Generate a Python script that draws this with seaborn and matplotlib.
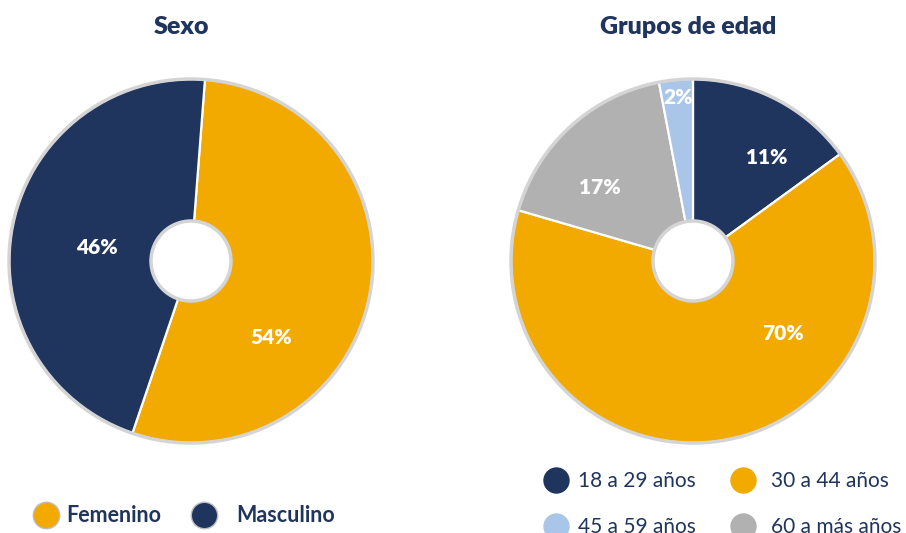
import matplotlib
matplotlib.use("Agg")
import matplotlib.pyplot as plt
from matplotlib.patches import Circle
from matplotlib.lines import Line2D
import seaborn as sns

sns.set_theme(style="white")
FONT = ['Lato', 'DejaVu Sans']
plt.rcParams['font.family'] = FONT

# ---- data ----
sexo_categorias = ["Femenino", "Masculino"]
sexo_valores = [54, 46]
sexo_etiquetas = ["54%", "46%"]

edad_categorias = ["18 a 29 años", "30 a 44 años", "45 a 59 años", "60 a más años"]
edad_valores = [15, 64.5, 3, 17.5]          # slice sizes as drawn
edad_etiquetas = ["11%", "70%", "2%", "17%"]  # labels as printed

NAVY = "#1F355E"
ORANGE = "#F2A900"
LBLUE = "#A9C6E8"
GRAY = "#B1B1B1"
RING = "#D4D4D4"

sexo_colores = [ORANGE, NAVY]
edad_colores = [NAVY, ORANGE, LBLUE, GRAY]

W, H = 906, 533
fig = plt.figure(figsize=(W / 100, H / 100), dpi=100)

def axes_px(cx, cy, r):
    return fig.add_axes([(cx - r) / W, (H - cy - r) / H, 2 * r / W, 2 * r / H])

R_PX = 182
HOLE = 40 / R_PX

def donut(ax, values, colors, start, order=None):
    if order is None:
        order = list(range(len(values)))
    vals = [values[i] for i in order]
    cols = [colors[i] for i in order]
    ax.pie(vals, colors=cols, startangle=start, counterclock=False, radius=1,
           wedgeprops=dict(edgecolor="white", linewidth=1.6))
    ax.add_patch(Circle((0, 0), 1.0, fill=False, edgecolor=RING, lw=2.5, zorder=5))
    ax.add_patch(Circle((0, 0), HOLE, facecolor="white", edgecolor=RING, lw=2.5, zorder=5))
    ax.set_xlim(-1.02, 1.02)
    ax.set_ylim(-1.02, 1.02)
    ax.axis("off")

LBL_W = "heavy"

# ---- left: Sexo ----
ax1 = axes_px(191, 261, R_PX * 1.02)
donut(ax1, sexo_valores, sexo_colores, 90 - 4.4)
lbl_pos1 = [(80 / R_PX, -77 / R_PX), (-94 / R_PX, 14 / R_PX)]
for (x, y), t in zip(lbl_pos1, sexo_etiquetas):
    ax1.text(x, y, t, color="white", fontsize=15, fontweight=LBL_W,
             ha="center", va="center", zorder=6)
fig.text(181 / W, 1 - 27 / H, "Sexo", color=NAVY, fontsize=18,
         fontweight=LBL_W, ha="center", va="center")

# ---- right: Grupos de edad ----
ax2 = axes_px(693, 261, R_PX * 1.02)
donut(ax2, edad_valores, edad_colores, 90, order=[0, 1, 3, 2])
lbl_pos2 = [(74 / R_PX, 104 / R_PX), (90 / R_PX, -72 / R_PX),
            (-15 / R_PX, 164 / R_PX), (-93 / R_PX, 73 / R_PX)]
for (x, y), t in zip(lbl_pos2, edad_etiquetas):
    ax2.text(x, y, t, color="white", fontsize=15, fontweight=LBL_W,
             ha="center", va="center", zorder=6)
fig.text(688 / W, 1 - 27 / H, "Grupos de edad", color=NAVY, fontsize=18,
         fontweight=LBL_W, ha="center", va="center")

# ---- legends (one entry each, placed by pixel) ----
MS = 19  # marker size in points (~26 px)

def entry(label, color, x_left, y_c, gap_px, weight, edge, fs):
    fs_px = fs * 100 / 72
    h = Line2D([0], [0], marker="o", linestyle="none", markersize=MS,
               color=color, markerfacecolor=color,
               markeredgecolor=edge if edge else color,
               markeredgewidth=1.0 if edge else 0)
    leg = fig.legend(handles=[h], labels=[label], loc="center left",
                     bbox_to_anchor=(x_left / W, 1 - y_c / H), frameon=False,
                     handlelength=26 / fs_px, handletextpad=gap_px / fs_px,
                     borderaxespad=0, borderpad=0,
                     prop=dict(family=FONT, weight=weight, size=fs))
    for t in leg.get_texts():
        t.set_color(NAVY)
    return leg

entry(sexo_categorias[0], sexo_colores[0], 33, 516, 7, "bold", "#BDBDBD", 15.5)
entry(sexo_categorias[1], sexo_colores[1], 191, 516, 19, "bold", "#BDBDBD", 15.5)

pos_edad = [(543, 481, 9), (730, 481, 15), (543, 527, 9), (730, 527, 15)]
for lab, col, (x, y, g) in zip(edad_categorias, edad_colores, pos_edad):
    entry(lab, col, x, y, g, "normal", None, 15)

fig.savefig("out.png", dpi=100)
